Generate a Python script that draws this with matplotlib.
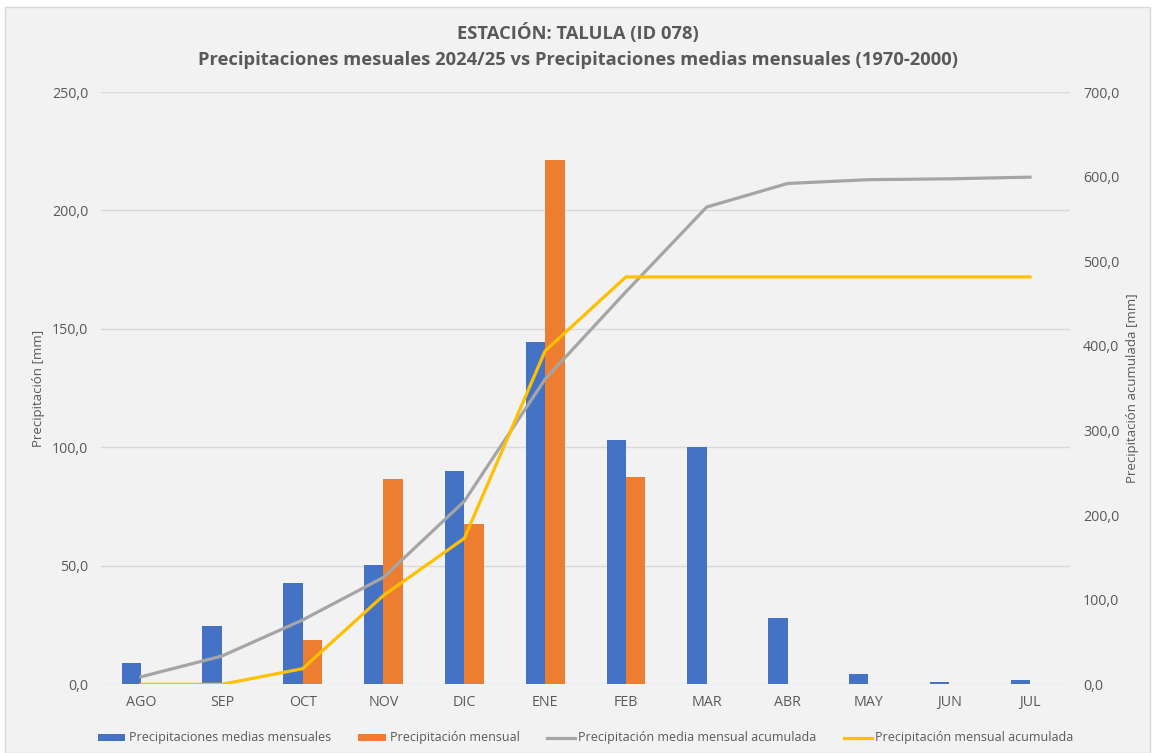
import numpy as np
import matplotlib
matplotlib.use("Agg")
import matplotlib.pyplot as plt
from matplotlib.patches import Rectangle
from matplotlib.ticker import FuncFormatter

# datos
meses = ["AGO", "SEP", "OCT", "NOV", "DIC", "ENE", "FEB", "MAR", "ABR", "MAY", "JUN", "JUL"]
medias = [8.9, 24.5, 42.7, 50.3, 90.0, 144.3, 103.2, 100.2, 27.8, 4.5, 1.0, 2.0]
mensual = [0.0, 0.0, 18.5, 86.5, 67.5, 221.5, 87.5, 0.0, 0.0, 0.0, 0.0, 0.0]

media_acum = np.cumsum(medias)
mensual_acum = np.cumsum(mensual)

plt.rcParams["font.family"] = ["Open Sans", "DejaVu Sans"]
gris = "#595959"

fig = plt.figure(figsize=(11.55, 7.53), dpi=100)
fig.patch.set_facecolor("white")
fig.patches.append(Rectangle((5 / 1155, 0), 1 - 10 / 1155, 1 - 7 / 753, transform=fig.transFigure,
                             facecolor="#f2f2f2", edgecolor="#d9d9d9", lw=1, zorder=-10))

ax = fig.add_axes([0.0871, 0.0912, 0.8397, 0.7866])
ax.set_facecolor("none")
x = np.arange(len(meses))
w = 0.24
ax.bar(x - w / 2, medias, w, color="#4472C4", label="Precipitaciones medias mensuales", zorder=2)
ax.bar(x + w / 2, mensual, w, color="#ED7D31", label="Precipitación mensual", zorder=2)
ax.set_xlim(-0.5, len(meses) - 0.5)
ax.set_ylim(0, 250)
ax.set_yticks(np.arange(0, 251, 50))
ax.yaxis.grid(True, color="#d9d9d9", lw=1, zorder=0)
ax.set_axisbelow(True)
ax.set_xticks(x)
ax.set_xticklabels(meses)
fmt = FuncFormatter(lambda v, p: ("%.1f" % v).replace(".", ","))
ax.yaxis.set_major_formatter(fmt)
ax.tick_params(length=0, colors=gris, labelsize=10.3)
ax.tick_params(axis="y", pad=9)
ax.tick_params(axis="x", pad=8)
for s in ax.spines.values():
    s.set_visible(False)
ax.set_ylabel("Precipitación [mm]", color=gris, fontsize=9.5, labelpad=5)

ax2 = ax.twinx()
ax2.plot(x, media_acum, color="#A5A5A5", lw=2.3, label="Precipitación media mensual acumulada", zorder=3)
ax2.plot(x, mensual_acum, color="#FFC000", lw=2.3, label="Precipitación mensual acumulada", zorder=3)
ax2.set_ylim(0, 700)
ax2.set_yticks(np.arange(0, 701, 100))
ax2.yaxis.set_major_formatter(fmt)
ax2.tick_params(length=0, colors=gris, labelsize=10.3, pad=9)
for s in ax2.spines.values():
    s.set_visible(False)
ax2.set_ylabel("Precipitación acumulada [mm]", color=gris, fontsize=9.5, labelpad=5)

fig.text(0.5, 1 - 33 / 753, "ESTACIÓN: TALULA (ID 078)", ha="center", va="center",
         fontsize=13.2, fontweight="bold", color=gris)
fig.text(0.5, 1 - 60 / 753, "Precipitaciones mesuales 2024/25 vs Precipitaciones medias mensuales (1970-2000)",
         ha="center", va="center", fontsize=13.2, fontweight="bold", color=gris)

h1, l1 = ax.get_legend_handles_labels()
h2, l2 = ax2.get_legend_handles_labels()
fig.legend(h1 + h2, l1 + l2, loc="center", bbox_to_anchor=(0.507, 1 - 738 / 753), ncol=4,
           frameon=False, fontsize=9, labelcolor=gris, handlelength=2.2, handleheight=0.5,
           columnspacing=2.2, handletextpad=0.3)

fig.savefig("out.png", dpi=100, facecolor=fig.get_facecolor())
